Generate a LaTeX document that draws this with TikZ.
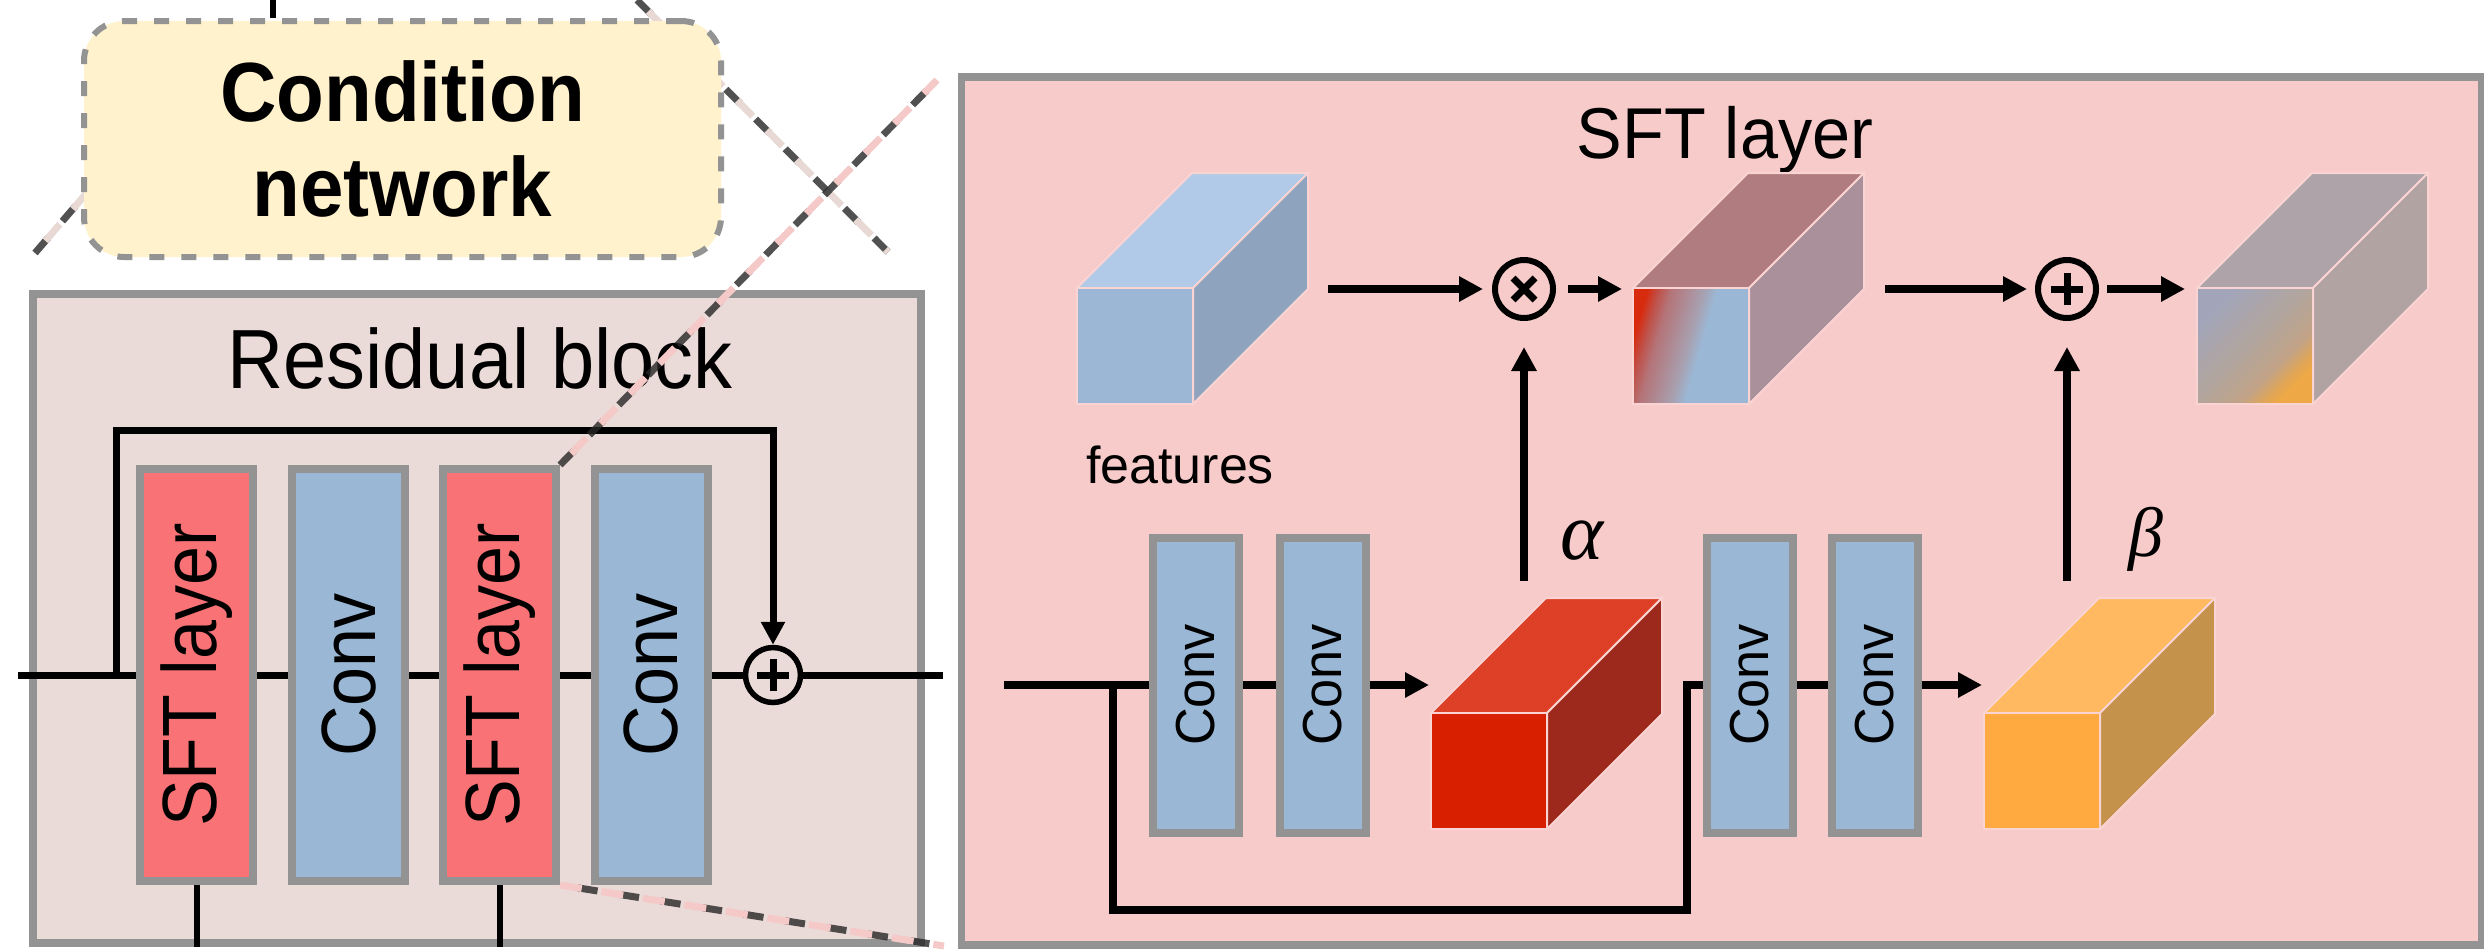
\documentclass[tikz,border=0pt]{standalone}
\usepackage{fontspec}
\usepackage{graphicx}
\setmainfont{Liberation Sans}
\newfontfamily\greekserif{Liberation Serif}
\usetikzlibrary{arrows.meta,calc}

\definecolor{bordergray}{HTML}{939393}
\definecolor{resfill}{HTML}{EADBD8}
\definecolor{condfill}{HTML}{FFF2CC}
\definecolor{sftred}{HTML}{F97276}
\definecolor{convblue}{HTML}{9AB8D5}
\definecolor{panelfill}{HTML}{F7CBCA}
\definecolor{cubeedge}{HTML}{F9D4D2}
\definecolor{featfront}{HTML}{9BB7D5}
\definecolor{feattop}{HTML}{B1CAE7}
\definecolor{featside}{HTML}{8EA4BE}
\definecolor{alphafront}{HTML}{D81F00}
\definecolor{alphatop}{HTML}{DD3F27}
\definecolor{alphaside}{HTML}{9D291C}
\definecolor{betafront}{HTML}{FFAA40}
\definecolor{betatop}{HTML}{FFB960}
\definecolor{betaside}{HTML}{C4924A}
\definecolor{modtop}{HTML}{B07C80}
\definecolor{modside}{HTML}{AA909A}
\definecolor{outtop}{HTML}{ADA3A8}
\definecolor{outcubeside}{HTML}{B1A3A2}
\definecolor{shadowdark}{HTML}{262626}
\definecolor{zoomres}{HTML}{E8D9D5}
\definecolor{zoomsft}{HTML}{F5C9C7}
% stops of the modulated front face
\definecolor{modA}{HTML}{D82A0C}
\definecolor{modB}{HTML}{C05048}
\definecolor{modC}{HTML}{B47478}
\definecolor{modD}{HTML}{A8A0B0}
\definecolor{modF}{HTML}{9AB8D6}
% stops of the output front face
\definecolor{outA}{HTML}{A2A5B9}
\definecolor{outB}{HTML}{B2A59E}
\definecolor{outC}{HTML}{C2A386}
\definecolor{outD}{HTML}{DDA55C}
\definecolor{outE}{HTML}{EEA845}

\pgfdeclarehorizontalshading{modfront}{100bp}{color(0bp)=(modA); color(25bp)=(modA); color(29.7bp)=(modB); color(35.1bp)=(modC); color(48.5bp)=(modD); color(54.4bp)=(modF); color(100bp)=(modF)}
\pgfdeclarehorizontalshading{outfront}{100bp}{color(0bp)=(outA); color(26bp)=(outA); color(48bp)=(outB); color(63bp)=(outC); color(69bp)=(outD); color(74bp)=(outE); color(100bp)=(outE)}

\tikzset{
  rline/.style={line width=7pt, draw=black},
  rarr/.style={rline, -{Triangle[length=23pt,width=23pt]}},
  pline/.style={line width=8pt, draw=black},
  parr/.style={pline, -{Triangle[length=24pt,width=24pt]}},
  sftblk/.style={rectangle, draw=bordergray, fill=sftred, line width=8pt, inner sep=0pt,
    minimum width=113pt, minimum height=412pt, font=\fontsize{77pt}{77pt}\selectfont},
  convblk/.style={sftblk, fill=convblue},
  smallconv/.style={rectangle, draw=bordergray, fill=convblue, line width=8pt, inner sep=0pt,
    minimum width=86pt, minimum height=295pt, font=\fontsize{55pt}{55pt}\selectfont},
  plusop/.style={circle, draw=black, line width=6pt, minimum size=58pt, inner sep=0pt,
    path picture={\draw[line width=7pt]
      ([xshift=-16pt]path picture bounding box.center) -- ([xshift=16pt]path picture bounding box.center)
      ([yshift=-16pt]path picture bounding box.center) -- ([yshift=16pt]path picture bounding box.center);}},
  timesop/.style={circle, draw=black, line width=6pt, minimum size=58pt, inner sep=0pt,
    path picture={\draw[line width=7pt]
      ([shift={(-11pt,-11pt)}]path picture bounding box.center) -- ([shift={(11pt,11pt)}]path picture bounding box.center)
      ([shift={(-11pt,11pt)}]path picture bounding box.center) -- ([shift={(11pt,-11pt)}]path picture bounding box.center);}},
  zoom shadow/.style={draw=shadowdark, line width=7pt, opacity=0.8},
  dark lead/.style={zoom shadow, dash pattern=on 20pt off 22pt, dash phase=0pt},
  dark trail/.style={zoom shadow, dash pattern=on 20pt off 22pt, dash phase=24pt},
  pink lead/.style={line width=7pt, dash pattern=on 22pt off 20pt, dash phase=0pt},
  pink trail/.style={line width=7pt, dash pattern=on 22pt off 20pt, dash phase=26pt},
}

% feature cube: name, x and y of the front face's top left corner,
% options of the front face, colour of the top, colour of the side
\newcommand\featcube[6]{%
  \path[fill=#5, draw=cubeedge, line width=2pt] (#2,#3) -- ++(115,-115) -- ++(116,0) -- ++(-115,115) -- cycle;
  \path[fill=#6, draw=cubeedge, line width=2pt] (#2+116,#3) -- ++(115,-115) -- ++(0,116) -- ++(-115,115) -- cycle;
  \path[#4, draw=cubeedge, line width=2pt] (#2,#3) rectangle ++(116,116);
  \node[inner sep=0pt, minimum width=231pt, minimum height=231pt, anchor=south west] (#1) at (#2,#3+116) {};
}

\begin{document}
\begin{tikzpicture}[x=1pt,y=-1pt]
\clip (0,0) rectangle (2484,951);

% ---------- zoom lines from the residual block above ----------
\coordinate (za0) at (35,253);
\coordinate (za1) at (190,73);
\coordinate (zb0) at (637,0);
\coordinate (zb1) at (888,252);
\draw[dark lead] (za0) -- (za1);
\draw[pink trail, draw=zoomres] (za0) -- (za1);
\draw[dark lead] (zb0) -- (zb1);
\draw[pink trail, draw=zoomres] (zb0) -- (zb1);

% ---------- condition network ----------
\node[draw=bordergray, line width=6pt, dash pattern=on 15pt off 17pt, fill=condfill,
  rounded corners=40pt, minimum width=637pt, minimum height=236pt, inner sep=0pt,
  align=center, font=\fontsize{84pt}{95pt}\selectfont\bfseries] (cond) at (402.5,139)
  {\scalebox{0.93}[1]{Condition}\\\scalebox{0.93}[1]{network}};
\coordinate (cin) at (273,0);
\draw[line width=6pt] (cin) -- (cin |- cond.north);

% ---------- residual block ----------
\node[draw=bordergray, fill=resfill, line width=8pt, minimum width=887.5pt,
  minimum height=648.5pt, inner sep=0pt] (res) at (476.75,618.25) {};
\node[anchor=base, font=\fontsize{84pt}{84pt}\selectfont] (restitle) at (480,388)
  {\scalebox{0.925}[1]{Residual block}};

\coordinate (rin) at (18,675);
\coordinate (rb) at (116,675);
\coordinate (rt) at (116,430);
\coordinate (rout) at (943,675);

\node[sftblk] (sft1) at (196.5,675) {\rotatebox{90}{\scalebox{0.91}[1]{SFT layer}}};
\node[convblk] (conv1) at (348.5,675) {\rotatebox{90}{\scalebox{0.91}[1]{Conv}}};
\node[sftblk] (sft2) at (499.5,675) {\rotatebox{90}{\scalebox{0.91}[1]{SFT layer}}};
\node[convblk] (conv2) at (651,675) {\rotatebox{90}{\scalebox{0.91}[1]{Conv}}};
\node[plusop, fill=resfill, minimum size=55pt, line width=5.5pt] (rplus) at (773,675) {};

\draw[rline] (rin) -- (sft1);
\draw[rline] (sft1) -- (conv1);
\draw[rline] (conv1) -- (sft2);
\draw[rline] (sft2) -- (conv2);
\draw[rline] (conv2) -- (rplus);
\draw[rline] (rplus) -- (rout);
\draw[rarr] (rb) -- (rt) -| (rplus);
\draw[line width=6pt] (sft1.south) -- (sft1.south |- res.south);
\draw[line width=6pt] (sft2.south) -- (sft2.south |- res.south);

% ---------- SFT layer ----------
\node[draw=bordergray, fill=panelfill, line width=7.5pt, minimum width=1520.5pt,
  minimum height=868pt, inner sep=0pt] (panel) at (1721.75,511) {};
\node[anchor=base, font=\fontsize{72pt}{72pt}\selectfont] (paneltitle) at (1725,158)
  {\scalebox{0.95}[1]{SFT layer}};

\featcube{feat}{1077}{288}{fill=featfront}{feattop}{featside}
\featcube{mod}{1633}{288}{shade, shading=modfront, shading angle=-16}{modtop}{modside}
\featcube{out}{2197}{288}{shade, shading=outfront, shading angle=-45}{outtop}{outcubeside}
\featcube{red}{1431}{713}{fill=alphafront}{alphatop}{alphaside}
\featcube{orange}{1984}{713}{fill=betafront}{betatop}{betaside}

\node[anchor=base, font=\fontsize{52pt}{52pt}\selectfont] (featlabel) at (1180,483) {features};

\node[timesop, fill=panelfill] (ox) at (1524,289) {};
\node[plusop, fill=panelfill] (op) at (2067,289) {};

\coordinate (pin) at (1004,685);
\coordinate (br) at (1113,685);
\coordinate (sk) at (1687,910);

\node[smallconv] (c1) at (1196,685) {\rotatebox{90}{\scalebox{0.95}[1]{Conv}}};
\node[smallconv] (c2) at (1322.5,685) {\rotatebox{90}{\scalebox{0.95}[1]{Conv}}};
\node[smallconv] (c3) at (1749.5,685) {\rotatebox{90}{\scalebox{0.95}[1]{Conv}}};
\node[smallconv] (c4) at (1874.5,685) {\rotatebox{90}{\scalebox{0.95}[1]{Conv}}};

\draw[pline] (pin) -- (c1);
\draw[pline] (c1) -- (c2);
\draw[parr, shorten >=2pt] (c2) -- (c2 -| red.west);
\draw[pline] (br) |- (sk) |- (c3);
\draw[pline] (c3) -- (c4);
\draw[parr, shorten >=2pt] (c4) -- (c4 -| orange.west);

\draw[parr, shorten <=17pt, shorten >=26pt] (red.north -| ox) -- (ox);
\draw[parr, shorten <=17pt, shorten >=26pt] (orange.north -| op) -- (op);

\draw[parr, shorten <=20pt, shorten >=9pt] (feat.east |- ox) -- (ox);
\draw[parr, shorten <=12pt, shorten >=11pt] (ox) -- (ox -| mod.west);
\draw[parr, shorten <=21pt, shorten >=8pt] (mod.east |- op) -- (op);
\draw[parr, shorten <=8pt, shorten >=12pt] (op) -- (op -| out.west);

\node[inner sep=0pt, font=\greekserif\itshape\fontsize{82pt}{82pt}\selectfont] (alphalab) at (1582,541) {α};
\node[inner sep=0pt, font=\greekserif\itshape\fontsize{70pt}{70pt}\selectfont] (betalab) at (2146,539) {β};

% ---------- zoom lines from the SFT layer to its detail ----------
\coordinate (zc) at (937,80);
\coordinate (zd) at (944,946);
\draw[dark lead] (sft2.north east) -- (zc);
\draw[pink trail, draw=zoomsft] (sft2.north east) -- (zc);
\draw[dark trail] (sft2.south east) -- (zd);
\draw[pink lead, draw=zoomsft] (sft2.south east) -- (zd);
\end{tikzpicture}
\end{document}
